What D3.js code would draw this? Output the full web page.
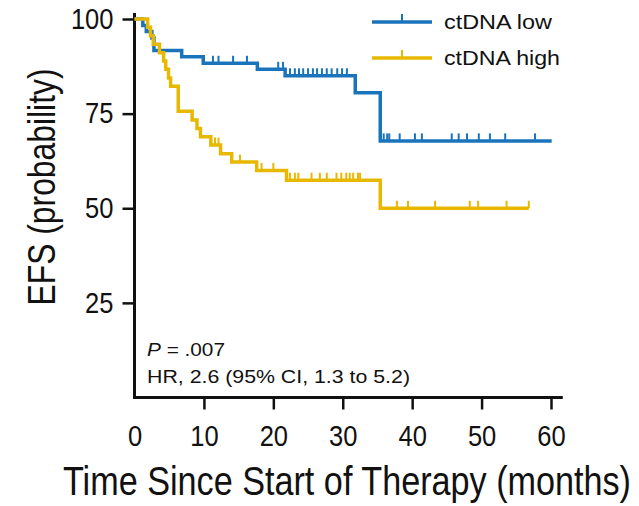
<!DOCTYPE html>
<html>
<head>
<meta charset="utf-8">
<script src="https://cdn.jsdelivr.net/npm/d3@7"></script>
<style>
  html, body { margin: 0; padding: 0; background: #fff; }
  svg { display: block; }
</style>
</head>
<body>
<svg id="chart" width="639" height="506"></svg>
<script>
// Kaplan-Meier step points (months, survival %) for each group
const lowTimes   = [0, 1.2, 1.7, 2.5, 2.8, 6.8, 9.9, 17.7, 21.7, 31.8, 35.4];
const lowSurv    = [100, 98.3, 96.7, 95.0, 91.7, 90.0, 88.3, 86.7, 85.0, 80.5, 67.8];
const lowEnd     = 60.1;
const lowCensor  = [11.3, 12.1, 14.2, 16.2, 20.7, 21.4,
                    22.4, 23.1, 23.7, 24.3, 25.0, 25.7, 26.3, 27.0, 27.7, 28.4, 29.2, 29.9, 30.6,
                    35.9, 36.4, 36.7, 38.2, 40.4, 41.4, 45.7, 46.7, 47.9, 49.6, 51.2, 53.4, 57.7];

const highTimes  = [0, 1.9, 2.3, 2.7, 3.6, 4.2, 4.5, 4.9, 5.2, 6.3, 8.3, 9.0, 9.5, 11.0, 12.4, 14.0, 17.6, 21.9, 35.4];
const highSurv   = [100, 97.8, 95.6, 93.3, 91.1, 88.9, 86.7, 84.4, 82.2, 75.6, 73.3, 71.1, 68.9, 66.7, 64.4, 62.2, 60.0, 57.4, 50.0];
const highEnd    = 56.8;
const highCensor = [11.6, 12.1, 15.2, 18.3, 20.0,
                    22.4, 23.1, 23.6, 25.5, 26.7, 27.7, 29.1, 29.8, 30.5, 31.0, 31.5, 32.2, 32.5,
                    37.8, 39.4, 43.3, 48.3, 49.5, 53.6, 56.8];

const xTicks = [0, 10, 20, 30, 40, 50, 60];
const yTicks = [25, 50, 75, 100];

const seriesNames = ["ctDNA low", "ctDNA high"];
const colors = ["#1a74bc", "#e8b800"];

const svg = d3.select("#chart");
const x = d3.scaleLinear().domain([0, 60]).range([134.5, 551]);
const y = d3.scaleLinear().domain([0, 100]).range([397.5, 19]);

const font = "'Liberation Sans', Arial, Helvetica, sans-serif";

// squeeze or widen a text run horizontally by a factor of its natural width
function fitWidth(sel, factor) {
  sel.each(function () {
    const w = this.getComputedTextLength();
    d3.select(this).attr("textLength", w * factor).attr("lengthAdjust", "spacingAndGlyphs");
  });
}
// set a text run to an exact width
function setWidth(sel, width) {
  sel.attr("textLength", width).attr("lengthAdjust", "spacingAndGlyphs");
}

// axis lines
svg.append("line")
  .attr("x1", x(0)).attr("x2", x(0))
  .attr("y1", y(0) + 1.5).attr("y2", y(101.6))
  .attr("stroke", "#111").attr("stroke-width", 3);
svg.append("line")
  .attr("x1", x(0) - 1.5).attr("x2", x(61.7))
  .attr("y1", y(0)).attr("y2", y(0))
  .attr("stroke", "#111").attr("stroke-width", 3);

// y axis ticks and labels
const gy = svg.append("g")
  .attr("transform", `translate(${x(0)},0)`)
  .call(d3.axisLeft(y).tickValues(yTicks).tickSize(12).tickPadding(9).tickFormat(d3.format("d")));
gy.select(".domain").remove();
gy.selectAll(".tick line").attr("stroke", "#111").attr("stroke-width", 2.5);
gy.selectAll(".tick text")
  .attr("font-family", font).attr("font-size", 29).attr("fill", "#111")
  .call(fitWidth, 0.88);

// x axis ticks and labels
const gx = svg.append("g")
  .attr("transform", `translate(0,${y(0)})`)
  .call(d3.axisBottom(x).tickValues(xTicks).tickSize(12).tickPadding(16).tickFormat(d3.format("d")));
gx.select(".domain").remove();
gx.selectAll(".tick line").attr("stroke", "#111").attr("stroke-width", 2.5)
  .attr("display", d => d === 0 ? "none" : null);
gx.selectAll(".tick text")
  .attr("font-family", font).attr("font-size", 29).attr("fill", "#111")
  .call(fitWidth, 0.88);

// axis titles: narrow lettering made by stretching a smaller face vertically
svg.append("text")
  .attr("transform", "translate(347,495) scale(1,1.18)")
  .attr("text-anchor", "middle")
  .attr("font-family", font).attr("font-size", 34).attr("fill", "#111")
  .text("Time Since Start of Therapy (months)")
  .call(setWidth, 568);
svg.append("text")
  .attr("transform", "translate(55,187) rotate(-90) scale(1,1.2)")
  .attr("text-anchor", "middle")
  .attr("font-family", font).attr("font-size", 32).attr("fill", "#111")
  .text("EFS (probability)")
  .call(setWidth, 237);

// survival curves
const line = d3.line().x(d => x(d[0])).y(d => y(d[1])).curve(d3.curveStepAfter);

function stepValue(times, surv, t) {
  let v = surv[0];
  for (let i = 0; i < times.length; i++) if (times[i] <= t) v = surv[i];
  return v;
}

function drawCurve(times, surv, end, censor, color) {
  const pts = times.map((t, i) => [t, surv[i]]);
  pts.push([end, surv[surv.length - 1]]);
  svg.append("path")
    .attr("d", line(pts))
    .attr("fill", "none").attr("stroke", color).attr("stroke-width", 3.5);
  svg.append("g").selectAll("line").data(censor).join("line")
    .attr("x1", d => x(d)).attr("x2", d => x(d))
    .attr("y1", d => y(stepValue(times, surv, d)))
    .attr("y2", d => y(stepValue(times, surv, d)) - 7.5)
    .attr("stroke", color).attr("stroke-width", 2);
}

drawCurve(lowTimes, lowSurv, lowEnd, lowCensor, colors[0]);
drawCurve(highTimes, highSurv, highEnd, highCensor, colors[1]);

// legend
const legendY = [22, 58];
const legendW = [108, 116];
seriesNames.forEach((name, i) => {
  const g = svg.append("g");
  g.append("line").attr("x1", 372).attr("x2", 432)
    .attr("y1", legendY[i]).attr("y2", legendY[i])
    .attr("stroke", colors[i]).attr("stroke-width", 3.5);
  g.append("line").attr("x1", 402).attr("x2", 402)
    .attr("y1", legendY[i]).attr("y2", legendY[i] - 8)
    .attr("stroke", colors[i]).attr("stroke-width", 2);
  g.append("text").attr("x", 444).attr("y", legendY[i] + 7)
    .attr("font-family", font).attr("font-size", 20).attr("fill", "#111")
    .text(name)
    .call(setWidth, legendW[i]);
});

// statistics annotation
const ann = svg.append("g").attr("font-family", font).attr("font-size", 18).attr("fill", "#111");
const p = ann.append("text").attr("x", 147).attr("y", 356);
p.append("tspan").attr("font-style", "italic").text("P");
p.append("tspan").text(" = .007");
p.call(setWidth, 78);
ann.append("text").attr("x", 147).attr("y", 383).text("HR, 2.6 (95% CI, 1.3 to 5.2)")
  .call(setWidth, 263);
</script>
</body>
</html>
